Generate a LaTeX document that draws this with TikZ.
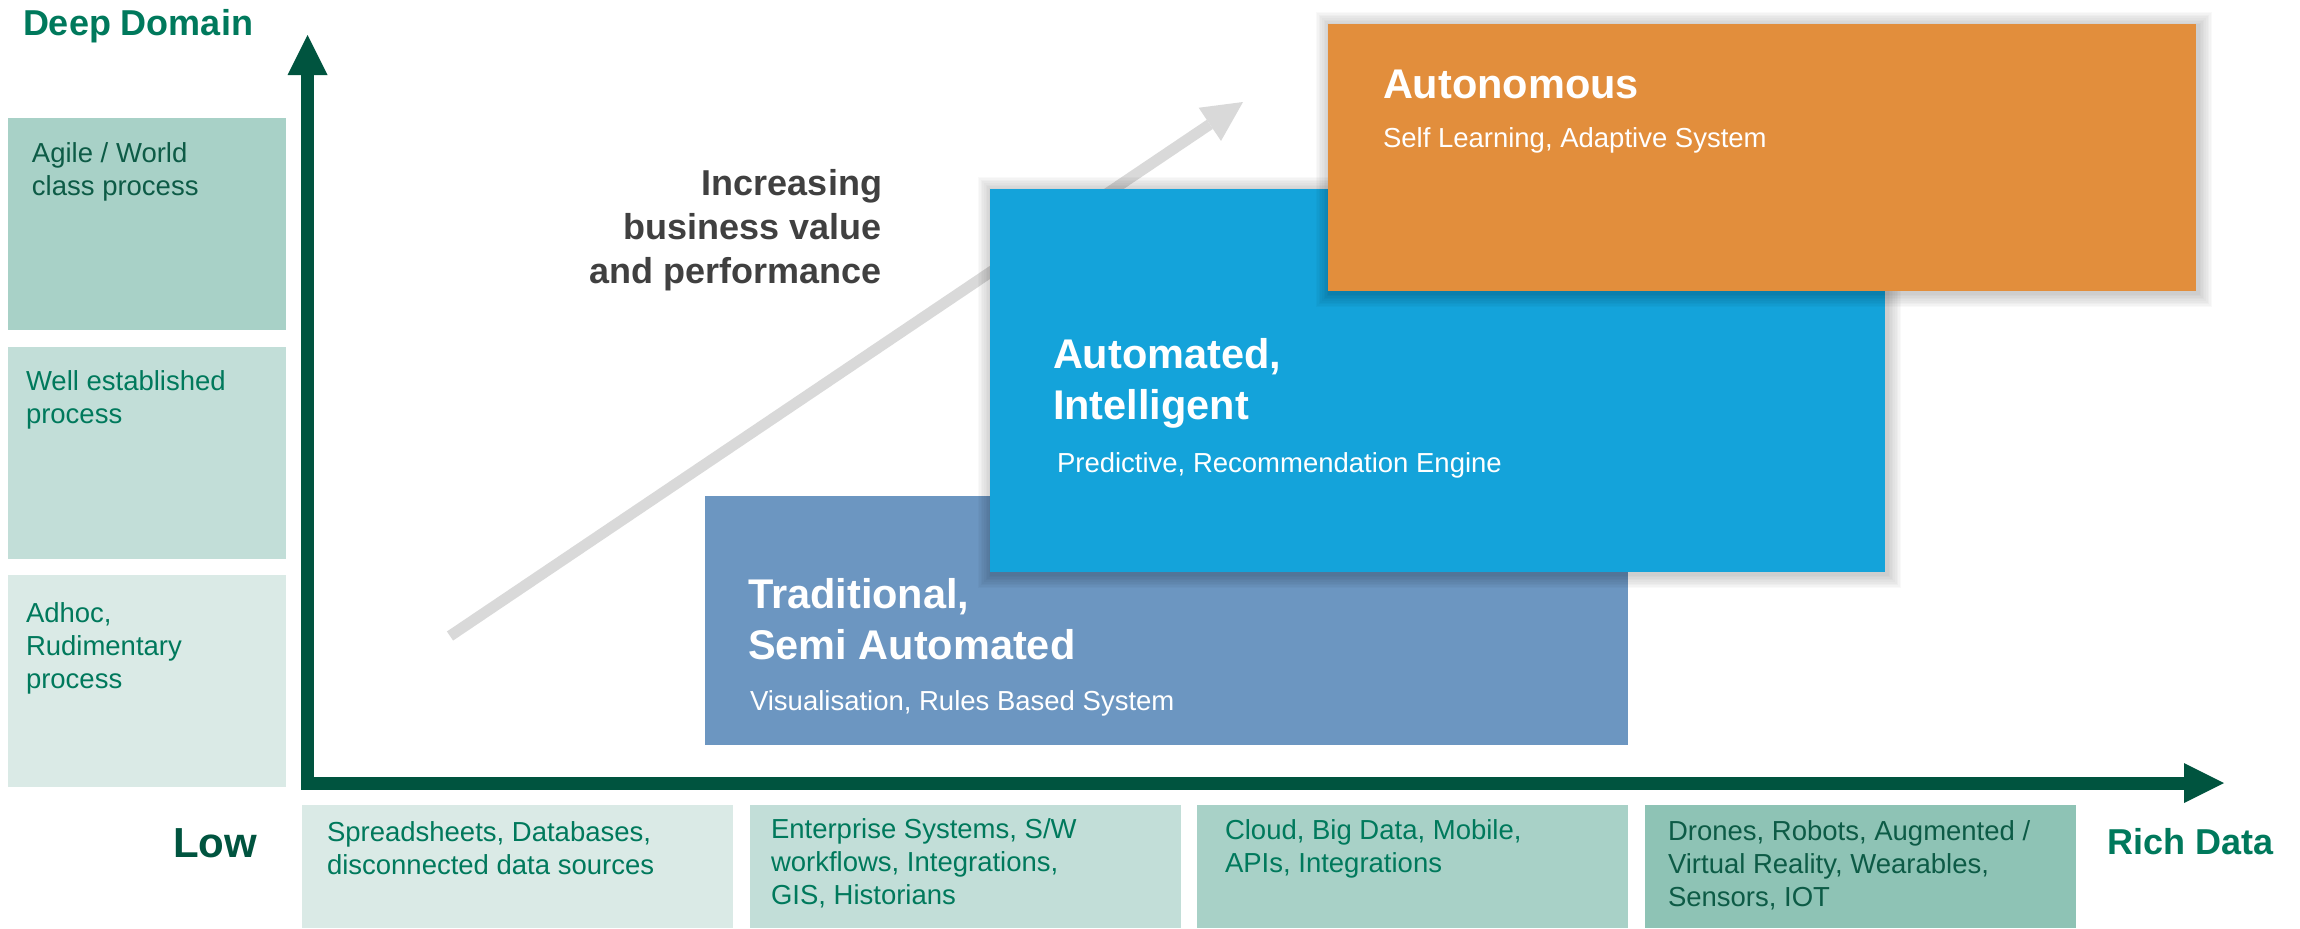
\documentclass[tikz,border=0pt]{standalone}
\usepackage{fontspec}
\setmainfont{Liberation Sans}
\usetikzlibrary{arrows.meta}
\definecolor{axisgreen}{HTML}{00543F}
\definecolor{tealtext}{HTML}{00795C}
\definecolor{darktext}{HTML}{0D5B46}
\definecolor{boxA}{HTML}{DAEAE6}
\definecolor{boxB}{HTML}{C2DED8}
\definecolor{boxC}{HTML}{A8D1C7}
\definecolor{boxD}{HTML}{8EC3B5}
\definecolor{tradblue}{HTML}{6C96C1}
\definecolor{autoblue}{HTML}{14A3DA}
\definecolor{autoorange}{HTML}{E28E3C}
\definecolor{arrowgray}{HTML}{D9D9D9}
\definecolor{valuegray}{HTML}{404040}
\newcommand{\boxshadow}[4]{%
  \foreach \r in {1,...,9}{%
    \fill[black, fill opacity=0.024] (#1-1.6*\r+2,#2-1.6*\r+2) rectangle (#3+1.6*\r+2,#4+1.6*\r+2);
  }}
\begin{document}
\begin{tikzpicture}[x=0.5pt,y=-0.5pt,
  tile/.style={draw=none, inner sep=0pt, outer sep=0pt, anchor=north west},
  lefttile/.style={tile, minimum width=139pt, minimum height=105.75pt},
  bottile/.style={tile, minimum width=215.5pt, minimum height=61.5pt},
  txt/.style={inner sep=0pt, outer sep=0pt, anchor=base west, align=left,
    font=\fontsize{13.75pt}{16.5pt}\selectfont},
  bigtxt/.style={inner sep=0pt, outer sep=0pt, anchor=base west, align=left, text=white,
    font=\bfseries\fontsize{20.75pt}{25.5pt}\selectfont},
  subtxt/.style={txt, text=white},
  axislabel/.style={inner sep=0pt, outer sep=0pt, font=\bfseries\fontsize{18pt}{22pt}\selectfont},
  axisline/.style={draw=axisgreen, line width=6.5pt, line join=miter,
    {Triangle[length=20pt,width=20pt,line width=0pt]}-{Triangle[length=20pt,width=20pt,line width=0pt]}},
  valuearrow/.style={draw=arrowgray, line width=5.5pt,
    -{Triangle[length=20pt,width=20pt,line width=0pt]}}
]
\useasboundingbox (0,0) rectangle (2300,928);

% left maturity tiles (multi-line nodes are placed by the baseline of their last line)
\node[lefttile, fill=boxC, minimum height=106pt] (l1) at (8,118) {};
\node[lefttile, fill=boxB] (l2) at (8,347) {};
\node[lefttile, fill=boxA] (l3) at (8,575) {};
\node[txt, text=darktext] (t1) at (32,195) {Agile / World\\class process};
\node[txt, text=tealtext] (t2) at (26,423) {Well established\\process};
\node[txt, text=tealtext] (t3) at (26,688) {Adhoc,\\Rudimentary\\process};

% bottom data tiles
\node[bottile, fill=boxA] (b1) at (302,805) {};
\node[bottile, fill=boxB] (b2) at (750,805) {};
\node[bottile, fill=boxC] (b3) at (1197,805) {};
\node[bottile, fill=boxD] (b4) at (1645,805) {};
\node[txt, text=tealtext] (s1) at (327,874) {Spreadsheets, Databases,\\disconnected data sources};
\node[txt, text=tealtext] (s2) at (771,904) {Enterprise Systems, S/W\\workflows, Integrations,\\GIS, Historians};
\node[txt, text=tealtext] (s3) at (1225,872) {Cloud, Big Data, Mobile,\\APIs, Integrations};
\node[txt, text=darktext] (s4) at (1668,906) {Drones, Robots, Augmented /\\Virtual Reality, Wearables,\\Sensors, IOT};

% axis labels
\node[axislabel, text=tealtext, anchor=base west] (deep) at (23,35) {Deep Domain};
\node[axislabel, text=tealtext, anchor=base west] (rich) at (2107,854) {Rich Data};
\node[inner sep=0pt, outer sep=0pt, anchor=base east, text=axisgreen,
  font=\bfseries\fontsize{21pt}{25pt}\selectfont] (low) at (257,857) {Low};

% axes
\coordinate (ytip) at (307.5,35);
\coordinate (orig) at (307.5,783);
\coordinate (xtip) at (2224,783);
\draw[axisline] (ytip) -- (orig) -- (xtip);

% increasing value arrow
\coordinate (vs) at (450,636);
\coordinate (ve) at (1243,102);
\draw[valuearrow] (vs) -- (ve);
\node[inner sep=0pt, outer sep=0pt, anchor=base east, align=right, text=valuegray,
  font=\bfseries\fontsize{18pt}{22pt}\selectfont] (incr) at (882,283)
  {Increasing\\business value\\and performance};

% traditional
\node[tile, fill=tradblue, minimum width=461.5pt, minimum height=124.5pt] (trad) at (705,496) {};
\node[bigtxt] (tradh) at (748,659) {Traditional,\\Semi Automated};
\node[subtxt] (trads) at (750,710) {Visualisation, Rules Based System};

% automated
\boxshadow{990}{189}{1885}{572}
\node[tile, fill=autoblue, minimum width=447.5pt, minimum height=191.5pt] (auto) at (990,189) {};
\node[bigtxt] (autoh) at (1053,419) {Automated,\\Intelligent};
\node[subtxt] (autos) at (1057,472) {Predictive, Recommendation Engine};

% autonomous
\boxshadow{1328}{24}{2196}{291}
\node[tile, fill=autoorange, minimum width=434pt, minimum height=133.5pt] (aut) at (1328,24) {};
\node[bigtxt] (auth) at (1383,98) {Autonomous};
\node[subtxt] (auts) at (1383,147) {Self Learning, Adaptive System};
\end{tikzpicture}
\end{document}
